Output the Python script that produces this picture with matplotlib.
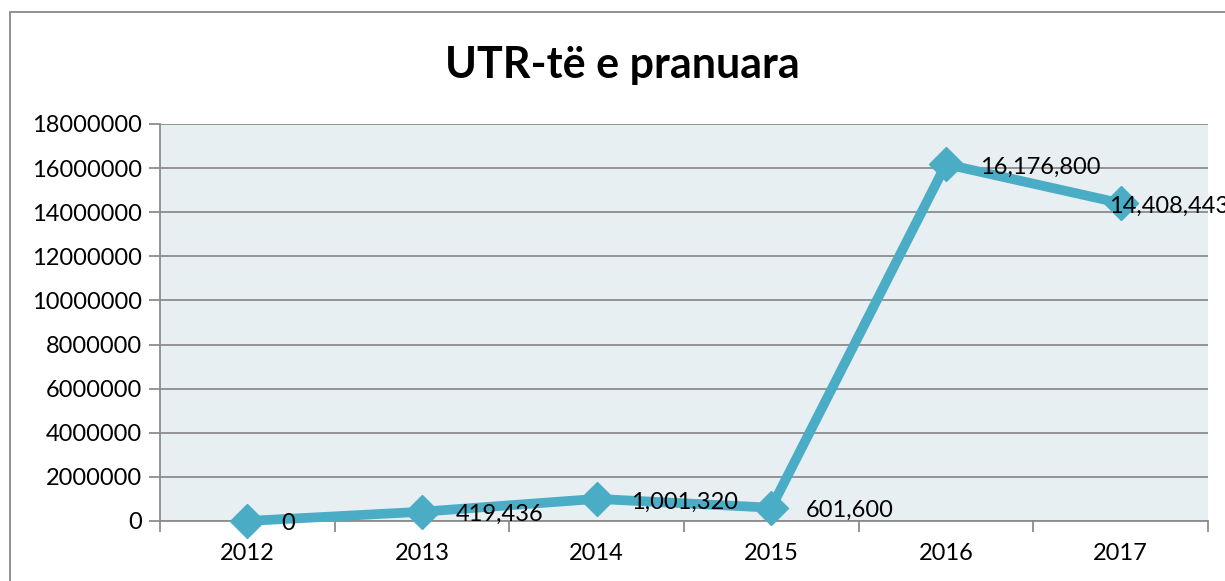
import matplotlib.pyplot as plt
from matplotlib.patches import Rectangle

plt.rcParams['font.family'] = ['Lato', 'DejaVu Sans']

years = ["2012", "2013", "2014", "2015", "2016", "2017"]
values = [0, 419436, 1001320, 601600, 16176800, 14408443]
labels = ["0", "419,436", "1,001,320", "601,600", "16,176,800", "14,408,443"]
yticks = list(range(0, 18000001, 2000000))

line_color = "#4BACC6"
grid_color = "#8C8C8C"

fig = plt.figure(figsize=(12.25, 5.81), dpi=100)
ax = fig.add_axes([0.1306, 0.1033, 0.8555, 0.6833])

# outer chart border
fig.patches.append(Rectangle((10 / 1225, -0.1), 1.2, 1 - 12 / 581 + 0.1,
                             transform=fig.transFigure, fill=False,
                             edgecolor="#888888", linewidth=1.3))

x = list(range(len(years)))
ax.plot(x, values, color=line_color, linewidth=7, marker="D", markersize=17,
        solid_joinstyle="miter", zorder=3, clip_on=False)

for xi, v, lab in zip(x, values, labels):
    # last label is pushed back inside the chart, like Excel does
    dx = 34 if xi < len(years) - 1 else -12
    ax.annotate(lab, (xi, v), xytext=(dx, -3), textcoords="offset pixels",
                ha="left", va="center", fontsize=17, color="black",
                annotation_clip=False, zorder=4)

ax.set_facecolor("#E8EFF3")
ax.set_xlim(-0.5, len(years) - 0.5)
ax.set_ylim(0, 18000000)
ax.set_yticks(yticks)
ax.set_yticklabels([str(t) for t in yticks])
ax.yaxis.grid(True, color=grid_color, linewidth=1.3)
ax.set_axisbelow(True)

ax.set_xticks(x)
ax.set_xticklabels(years)
ax.set_xticks([i - 0.5 for i in range(len(years) + 1)], minor=True)
ax.tick_params(axis="x", which="major", length=0, pad=16, labelsize=17)
ax.tick_params(axis="x", which="minor", length=8, width=1.3, color=grid_color)
ax.tick_params(axis="y", length=8, width=1.3, color=grid_color, labelsize=17, pad=5)

for side in ["top", "right"]:
    ax.spines[side].set_visible(False)
for side in ["left", "bottom"]:
    ax.spines[side].set_color(grid_color)
    ax.spines[side].set_linewidth(1.3)

fig.text(0.508, 0.888, "UTR-të e pranuara", ha="center", va="center",
         fontsize=31, fontweight="bold")

fig.savefig("out.png", dpi=100)
